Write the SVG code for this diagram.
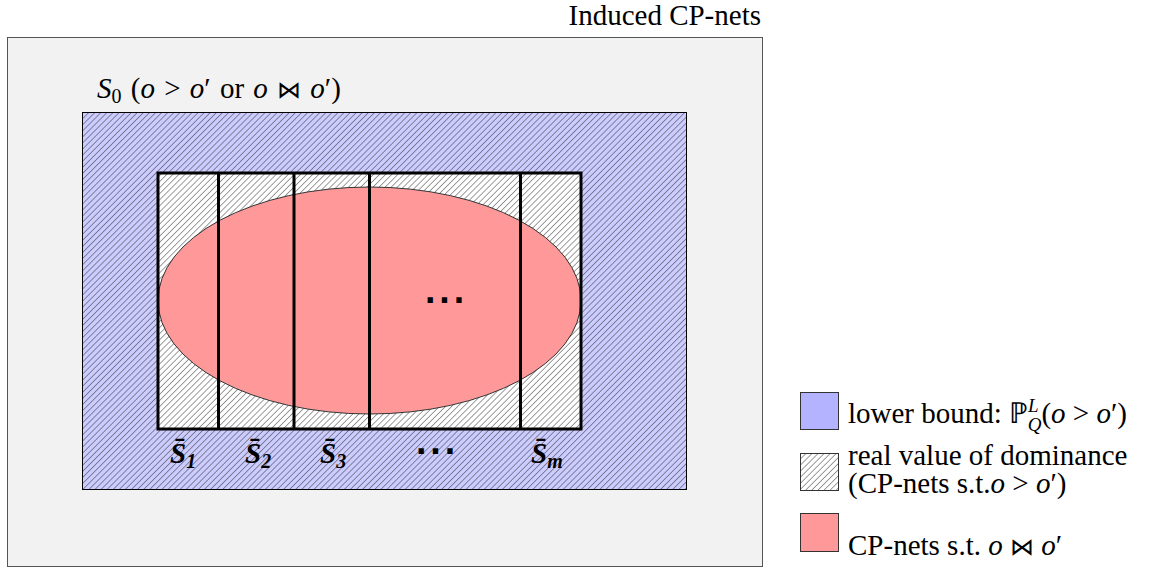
<svg xmlns="http://www.w3.org/2000/svg" width="1151" height="569" viewBox="0 0 1151 569">
<defs>
<pattern id="hatch" patternUnits="userSpaceOnUse" width="4.3" height="4.3" patternTransform="rotate(45)">
<line x1="0" y1="0" x2="0" y2="4.3" stroke="#222" stroke-width="0.9"/>
</pattern>
</defs>
<style>
text{font-family:"Liberation Serif","Times New Roman",serif;fill:#000;}
.t{font-size:29px;}
.i{font-style:italic;}
.b{font-weight:bold;font-style:italic;}
.bt{font-family:"DejaVu Serif",serif;font-weight:normal;font-style:normal;font-size:24px;}
.div{stroke:#000;stroke-width:3;fill:none;}
.dots{font-family:"DejaVu Sans",sans-serif;font-size:30px;font-weight:bold;letter-spacing:3px;}
</style>
<rect width="1151" height="569" fill="#fff"/>
<g id="outer">
<rect x="7.5" y="37.5" width="755" height="529" fill="#f2f2f2" stroke="#555" stroke-width="1"/>
<text class="t" x="761" y="25" text-anchor="end">Induced CP-nets</text>
</g>
<g id="s0">
<rect x="82.5" y="112.5" width="604" height="377" fill="#ccccff"/>
<rect x="82.5" y="112.5" width="604" height="377" fill="url(#hatch)" stroke="#000" stroke-width="1"/>
<text class="t" x="97" y="98" word-spacing="2"><tspan class="i">S</tspan><tspan font-size="20" dy="5">0</tspan><tspan dy="-5"> (</tspan><tspan class="i">o</tspan> &gt; <tspan class="i">o</tspan>′ or <tspan class="i">o</tspan> <tspan class="bt">⋈</tspan> <tspan class="i">o</tspan>′)</text>
</g>
<g id="real">
<rect x="158" y="173" width="423" height="256" fill="#fff"/>
<rect x="158" y="173" width="423" height="256" fill="url(#hatch)"/>
</g>
<g id="incomparable">
<ellipse cx="369.5" cy="300.5" rx="211.5" ry="113.5" fill="#ff9999" stroke="#333" stroke-width="1"/>
<text class="dots" x="446" y="311" text-anchor="middle">···</text>
</g>
<g id="partitions">
<rect x="158" y="173" width="423" height="256" class="div"/>
<line x1="218.5" y1="173" x2="218.5" y2="429" class="div"/>
<line x1="294" y1="173" x2="294" y2="429" class="div"/>
<line x1="369.5" y1="173" x2="369.5" y2="429" class="div"/>
<line x1="520.5" y1="173" x2="520.5" y2="429" class="div"/>
</g>
<g id="labels">
<text class="t b" x="170" y="463">S̄<tspan font-size="20" dy="5">1</tspan></text>
<text class="t b" x="245" y="463">S̄<tspan font-size="20" dy="5">2</tspan></text>
<text class="t b" x="320" y="463">S̄<tspan font-size="20" dy="5">3</tspan></text>
<text class="dots" x="437" y="462" text-anchor="middle">···</text>
<text class="t b" x="531" y="463">S̄<tspan font-size="20" dy="5">m</tspan></text>
</g>
<g id="legend">
<rect x="800.5" y="392.5" width="38" height="37" fill="#b3b3ff" stroke="#333" stroke-width="1"/>
<text class="t" x="848" y="423">lower bound: ℙ<tspan font-size="19" dy="-11" class="i">L</tspan><tspan font-size="19" dx="-11" dy="19" class="i">Q</tspan><tspan dy="-8">(</tspan><tspan class="i">o</tspan> &gt; <tspan class="i">o</tspan>′)</text>
<rect x="800.5" y="453.5" width="38" height="37" fill="#fff"/>
<rect x="800.5" y="453.5" width="38" height="37" fill="url(#hatch)" stroke="#333" stroke-width="1"/>
<text class="t" x="848" y="465">real value of dominance</text>
<text class="t" x="848" y="493">(CP-nets s.t.<tspan class="i">o</tspan> &gt; <tspan class="i">o</tspan>′)</text>
<rect x="800.5" y="513.5" width="38" height="38" fill="#ff9999" stroke="#333" stroke-width="1"/>
<text class="t" x="848" y="555">CP-nets s.t. <tspan class="i">o</tspan> <tspan class="bt">⋈</tspan> <tspan class="i">o</tspan>′</text>
</g>
</svg>
